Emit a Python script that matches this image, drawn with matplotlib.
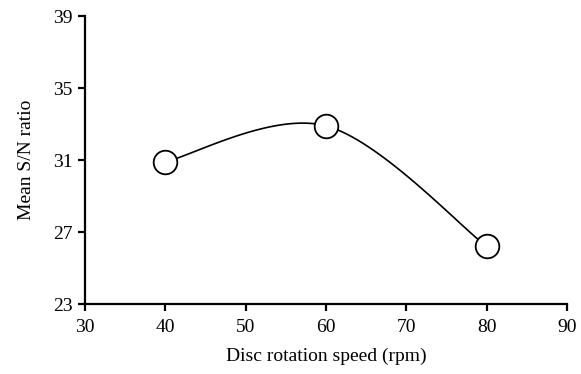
import numpy as np
import matplotlib
matplotlib.use("Agg")
import matplotlib.pyplot as plt

speed = [40, 60, 80]
sn_ratio = [30.9, 32.9, 26.2]
x_ticks = [30, 40, 50, 60, 70, 80, 90]
y_ticks = [23, 27, 31, 35, 39]


def smooth_curve(xs, ys, n=60):
    # spreadsheet-style smoothed line: cubic bezier between points,
    # control points taken from the neighbouring points
    pts = np.column_stack([xs, ys]).astype(float)
    out = []
    for i in range(len(pts) - 1):
        p0 = pts[max(i - 1, 0)]
        p1 = pts[i]
        p2 = pts[i + 1]
        p3 = pts[min(i + 2, len(pts) - 1)]
        c1 = p1 + (p2 - p0) / 6
        c2 = p2 - (p3 - p1) / 6
        t = np.linspace(0, 1, n)[:, None]
        seg = ((1 - t) ** 3) * p1 + 3 * ((1 - t) ** 2) * t * c1 \
            + 3 * (1 - t) * t ** 2 * c2 + t ** 3 * p2
        out.append(seg)
    out = np.vstack(out)
    return out[:, 0], out[:, 1]


plt.rcParams['font.family'] = ['Liberation Serif', 'DejaVu Serif']

fig = plt.figure(figsize=(5.81, 3.74), dpi=100)
ax = fig.add_axes([0.146, 0.187, 0.83, 0.77])

cx, cy = smooth_curve(speed, sn_ratio)
ax.plot(cx, cy, color='black', lw=1.2, zorder=2)
ax.plot(speed, sn_ratio, 'o', ms=17, mfc='white', mec='black', mew=1.3,
        zorder=3, clip_on=False)

ax.set_xlim(30, 90)
ax.set_ylim(23, 39)
ax.set_xticks(x_ticks)
ax.set_yticks(y_ticks)
ax.spines['top'].set_visible(False)
ax.spines['right'].set_visible(False)
ax.spines['left'].set_linewidth(1.6)
ax.spines['bottom'].set_linewidth(1.6)
ax.tick_params(direction='out', length=5, width=1.6, labelsize=14)
ax.tick_params(axis='x', pad=6)
ax.tick_params(axis='y', pad=4)

ax.set_xlabel('Disc rotation speed (rpm)', fontsize=14, labelpad=8)
ax.set_ylabel('Mean S/N ratio', fontsize=14, labelpad=13)

fig.savefig('out.png', dpi=100)
